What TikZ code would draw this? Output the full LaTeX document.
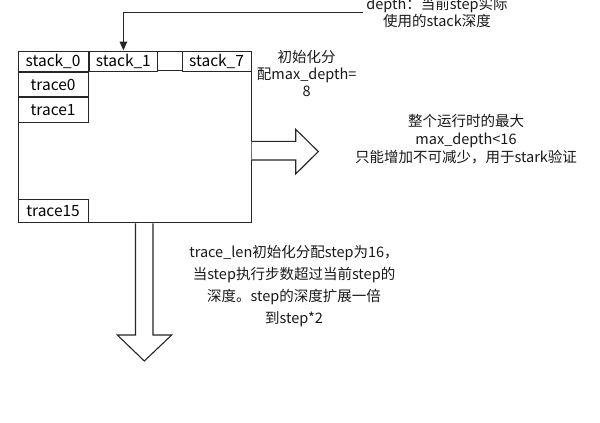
\documentclass[tikz,border=0pt]{standalone}
\usepackage{fontspec}
\setmainfont{Noto Sans CJK SC}
\usetikzlibrary{positioning,calc,arrows.meta}

\begin{document}
\begin{tikzpicture}[x=1pt,y=-1pt,line join=miter]
		\tikzstyle{cell}=[draw=black!85, line width=1.1pt, anchor=north west, inner sep=0pt, minimum height=20.2pt, minimum width=70pt, font=\fontsize{15.5}{16}\selectfont];
		\tikzstyle{note}=[align=center, inner sep=3pt, text=black!90];
		\tikzstyle{link}=[draw=black!85, line width=1.3pt];
		\tikzstyle{fat}=[draw=black!85, line width=1.1pt, fill=white];
		
		\useasboundingbox (0,0) rectangle (600,423);
		
		\node[cell, minimum width=233pt, minimum height=171.8pt] (frame) at (17.5,50.5) {};
		
		\node[cell] (s0) at (17.5,50.5) {stack\_0};
		\node[cell, minimum width=68.5pt] (s1) at (s0.north east) {stack\_1};
		\node[cell, minimum width=69pt] (s7) at (181.5,50.5) {stack\_7};
		\node[cell, minimum height=24.3pt] (t0) at (s0.south west) {trace0};
		\node[cell, minimum height=24.3pt] (t1) at (t0.south west) {trace1};
		\node[cell, minimum height=23.3pt, anchor=south west] (t15) at (frame.south west) {trace15};
		
		\draw[link, line width=1.1pt] ([yshift=1.4pt]s1.south east) -- ([yshift=1.4pt]s7.south west);
		
		\node[note, font=\fontsize{14.5}{17.7}\selectfont] (depthnote) at (437,12.5) {depth：当前step实际\\使用的stack深度};
		\draw[link, -{Triangle[length=9pt,width=7.5pt]}] (depthnote.west) -| (s1.north);
		
		\node[note, font=\fontsize{14.5}{17}\selectfont] (initnote) at (306.7,73.5) {初始化分\\配max\_depth=\\8};
		
		% block arrows
		\draw[fat] (frame.east |- 0,141.3) -- (295.7,141.3) -- (295.7,129.3) -- (318.3,151.5) -- (295.7,174) -- (295.7,160) -- (frame.east |- 0,160);
		\draw[fat] (135.5,0 |- frame.south) -- (135.5,335) -- (117.3,335) -- (144.3,361) -- (171.7,335) -- (153,335) -- (153,0 |- frame.south);
		
		\node[note, font=\fontsize{14.5}{18.3}\selectfont] (maxnote) at (466,139) {整个运行时的最大\\max\_depth<16\\只能增加不可减少，用于stark验证};
		\node[note, font=\fontsize{14.5}{22}\selectfont] (stepnote) at (294,286.5) {trace\_len初始化分配step为16，\\当step执行步数超过当前step的\\深度。step的深度扩展一倍\\到step*2};
	\end{tikzpicture}
\end{document}
